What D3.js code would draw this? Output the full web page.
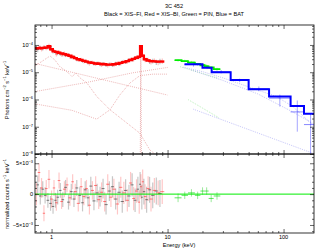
<!DOCTYPE html>
<html>
<head>
<meta charset="utf-8">
<script src="https://cdn.jsdelivr.net/npm/d3@7"></script>
<style>
  body { margin: 0; background: #fff; }
  svg { font-family: "Liberation Sans", Arial, sans-serif; }
</style>
</head>
<body>
<svg id="chart" width="317" height="249"></svg>
<script>
// ---- data ----
// XIS-BI (red)
const biEnergy = [0.74, 0.78, 0.82, 0.86, 0.90, 0.95, 1.0, 1.05, 1.1, 1.16, 1.22, 1.29, 1.36, 1.44, 1.52, 1.6, 1.7, 1.8, 1.9, 2.0, 2.12, 2.25, 2.4, 2.55, 2.7, 2.87, 3.05, 3.25, 3.45, 3.7, 3.95, 4.2, 4.5, 4.8, 5.1, 5.4, 5.7, 5.9, 6.1, 6.4, 6.8, 7.2, 7.7, 8.3, 9.0]
const biModel = [7.6e-5, 7.6e-5, 7.7e-5, 7.8e-5, 8.0e-5, 9.0e-5, 7.0e-5, 5.8e-5, 5.6e-5, 5.2e-5, 4.9e-5, 4.6e-5, 4.3e-5, 4.0e-5, 3.6e-5, 3.3e-5, 3.0e-5, 2.8e-5, 2.6e-5, 2.45e-5, 2.3e-5, 2.2e-5, 2.1e-5, 2.05e-5, 2.0e-5, 1.95e-5, 1.9e-5, 1.9e-5, 1.95e-5, 2.05e-5, 2.2e-5, 2.35e-5, 2.55e-5, 2.8e-5, 3.1e-5, 3.4e-5, 3.7e-5, 9.0e-5, 4.0e-5, 3.0e-5, 2.7e-5, 2.55e-5, 2.5e-5, 2.45e-5, 2.45e-5]
const biFlux = [7.2e-5, 8.4e-5, 7.0e-5, 8.6e-5, 7.6e-5, 9.6e-5, 6.4e-5, 6.2e-5, 4.6e-5, 5.6e-5, 4.4e-5, 5.0e-5, 4.6e-5, 3.7e-5, 3.9e-5, 3.4e-5, 2.8e-5, 3.0e-5, 2.5e-5, 2.6e-5, 2.1e-5, 2.35e-5, 2.0e-5, 2.2e-5, 1.85e-5, 2.05e-5, 1.8e-5, 2.0e-5, 1.85e-5, 2.2e-5, 2.05e-5, 2.5e-5, 2.4e-5, 3.0e-5, 2.9e-5, 3.6e-5, 3.5e-5, 8.6e-5, 4.3e-5, 2.8e-5, 2.9e-5, 2.4e-5, 2.7e-5, 2.3e-5, 2.6e-5]
const biFluxErr = [1.2e-5, 1.3e-5, 1.2e-5, 1.4e-5, 1.2e-5, 1.4e-5, 1.0e-5, 9e-6, 8e-6, 8e-6, 7e-6, 7e-6, 6e-6, 6e-6, 5e-6, 5e-6, 4e-6, 4e-6, 4e-6, 3.5e-6, 3.5e-6, 3e-6, 3e-6, 3e-6, 3e-6, 3e-6, 3e-6, 3e-6, 3e-6, 3e-6, 3e-6, 3.5e-6, 3.5e-6, 4e-6, 4e-6, 5e-6, 5e-6, 1.2e-5, 6e-6, 5e-6, 5e-6, 5e-6, 5e-6, 5e-6, 6e-6]
const biResid = [0.0, 3.5, 1.0, -3.1, 0.9, 2.4, -0.8, 1.0, -1.4, 2.2, -1.2, 0.8, 1.5, -0.6, 2.0, 0.4, -1.5, 1.2, -0.4, 0.9, -1.8, 0.6, 1.4, -0.9, 0.3, -1.2, 1.6, -0.5, 0.8, -1.6, 1.1, 0.2, -1.0, 1.8, -0.7, 0.5, -1.3, 1.2, 2.0, -0.4, 0.9, -0.8, 0.6, 0.2, 0.4]
const biResidErr = [1.8, 1.5, 1.6, 1.3, 1.4, 1.5, 1.4, 1.3, 1.3, 1.3, 1.2, 1.3, 1.2, 1.3, 1.2, 1.3, 1.3, 1.4, 1.4, 1.4, 1.5, 1.5, 1.5, 1.5, 1.6, 1.6, 1.6, 1.6, 1.7, 1.7, 1.7, 1.8, 1.8, 1.8, 1.9, 1.9, 1.9, 2.0, 2.0, 2.0, 2.0, 2.0, 2.0, 2.0, 2.0]

// XIS-FI (black)
const fiEnergy = [0.76, 0.80, 0.84, 0.88, 0.93, 0.98, 1.03, 1.08, 1.13, 1.19, 1.25, 1.32, 1.40, 1.48, 1.56, 1.65, 1.75, 1.85, 1.95, 2.06, 2.18, 2.32, 2.47, 2.62, 2.78, 2.95, 3.15, 3.35, 3.57, 3.82, 4.07, 4.35, 4.65, 4.95, 5.25, 5.55, 5.8, 6.0, 6.25, 6.6, 7.0, 7.45, 8.0, 8.6]
const fiFlux = [6.8e-5, 8.0e-5, 7.4e-5, 8.2e-5, 8.0e-5, 8.6e-5, 5.8e-5, 5.4e-5, 5.0e-5, 4.7e-5, 4.5e-5, 4.2e-5, 4.3e-5, 3.6e-5, 3.6e-5, 3.0e-5, 2.95e-5, 2.6e-5, 2.55e-5, 2.25e-5, 2.3e-5, 2.05e-5, 2.15e-5, 1.95e-5, 2.05e-5, 1.85e-5, 1.95e-5, 1.85e-5, 2.1e-5, 2.0e-5, 2.4e-5, 2.35e-5, 2.8e-5, 2.85e-5, 3.4e-5, 3.4e-5, 4.4e-5, 5.6e-5, 3.3e-5, 2.9e-5, 2.5e-5, 2.6e-5, 2.35e-5, 2.55e-5]
const fiFluxErr = [1.4e-5, 1.3e-5, 1.2e-5, 1.2e-5, 1.2e-5, 1.2e-5, 9e-6, 8e-6, 8e-6, 7e-6, 7e-6, 6e-6, 6e-6, 5e-6, 5e-6, 4.5e-6, 4e-6, 4e-6, 3.5e-6, 3.5e-6, 3.5e-6, 3e-6, 3e-6, 3e-6, 3e-6, 3e-6, 3e-6, 3e-6, 3e-6, 3e-6, 3.5e-6, 3.5e-6, 4e-6, 4e-6, 4.5e-6, 5e-6, 6e-6, 7e-6, 5e-6, 5e-6, 5e-6, 5e-6, 5e-6, 6e-6]
const fiResid = [1.5, -0.3, 0.8, -0.2, -1.0, -1.5, -2.0, -1.0, -0.5, 0.6, -0.9, 1.1, -1.3, 0.4, -0.8, 1.0, -0.2, -1.4, 0.7, -0.6, 1.3, -1.1, 0.2, -0.4, 0.9, -1.7, 0.5, 1.2, -0.8, 0.3, -1.2, 0.6, -0.3, 1.5, -1.0, 0.8, 1.6, -0.5, 0.4, -0.9, 0.7, -0.2, 0.5, 0.1]
const fiResidErr = [1.5, 1.4, 1.3, 1.3, 1.2, 1.2, 1.2, 1.2, 1.2, 1.2, 1.2, 1.2, 1.2, 1.3, 1.3, 1.3, 1.3, 1.4, 1.4, 1.4, 1.5, 1.5, 1.5, 1.6, 1.6, 1.6, 1.6, 1.7, 1.7, 1.7, 1.8, 1.8, 1.8, 1.9, 1.9, 2.0, 2.0, 2.0, 2.1, 2.1, 2.1, 2.1, 2.2, 2.2]

// HXD-PIN (green)
const pinEdges = [11.5, 13.2, 15.0, 17.2, 19.2, 20.9, 22.6, 25.0, 28.5]
const pinModel = [2.8e-5, 2.55e-5, 2.25e-5, 2.0e-5, 1.8e-5, 1.65e-5, 1.5e-5, 1.3e-5]
const pinFlux = [2.7e-5, 2.6e-5, 2.35e-5, 1.95e-5, 1.9e-5, 1.75e-5, 1.42e-5, 1.28e-5]
const pinFluxErr = [3e-6, 2.8e-6, 2.5e-6, 2.2e-6, 2.2e-6, 2.0e-6, 2.0e-6, 1.8e-6]
const pinResid = [-0.6, -0.2, 0.2, -0.2, 0.5, 0.5, -0.7, -0.3]
const pinResidErr = [0.7, 0.6, 0.6, 0.6, 0.6, 0.6, 0.6, 0.6]

// Swift BAT (blue)
const batEdges = [14, 20, 24, 35, 50, 75, 115, 150, 195]
const batModel = [1.96e-5, 1.47e-5, 1.0e-5, 5.2e-6, 2.38e-6, 1.28e-6, 5.8e-7, 3.0e-7]
const batFlux = [1.9e-5, 1.5e-5, 1.05e-5, 5.0e-6, 2.5e-6, 1.12e-6, 3.5e-7, 1.2e-7]
const batLo = [1.6e-5, 1.3e-5, 9e-6, 4.3e-6, 2.0e-6, 5.5e-7, 6.6e-8, 1e-8]
const batHi = [2.2e-5, 1.7e-5, 1.2e-5, 5.8e-6, 3.0e-6, 1.5e-6, 9.2e-7, 3.2e-7]

// model components [keV, photons cm-2 s-1 keV-1]
const biComponents = [
  [[0.72, 1.7e-5], [0.86, 2.8e-5], [0.97, 3.95e-5], [1.07, 2.8e-5], [1.18, 1.6e-5], [1.36, 1.05e-5], [1.5, 6.9e-6], [1.62, 9.2e-6], [1.76, 6.2e-6], [2.02, 4.0e-6], [2.46, 1.27e-6], [3.19, 4.2e-7], [4.46, 1.37e-7], [5.77, 5.8e-8], [7.04, 1.4e-8], [7.8, 1e-8]],
  [[0.72, 2.1e-5], [10, 1.45e-6]],
  [[0.72, 1.95e-6], [2, 4.2e-6], [5, 9.5e-6], [10, 1.5e-5]],
  [[0.72, 6.9e-7], [1.5, 4.0e-7], [2.45, 1.9e-7], [3.19, 4.2e-7], [3.88, 1.47e-6], [4.73, 4.0e-6], [5.77, 7.5e-6], [7.5, 8.5e-6], [10, 8.5e-6]],
  [[5.82, 1e-8], [5.88, 6e-5], [5.95, 1e-8]]
]
const pinComponents = [
  [[12.8, 1.6e-5], [27.4, 6.0e-6]],
  [[15.1, 9.8e-7], [27.4, 2.2e-7]]
]
const batComponents = [
  [[13.7, 1.52e-5], [20, 1.05e-5], [30, 6.2e-6], [50, 2.9e-6], [87, 1.28e-6], [120, 5.5e-7], [186, 1.0e-7]],
  [[16, 1.2e-5], [30, 5.0e-6], [60, 1.6e-6], [120, 3.5e-7], [186, 1.2e-7]],
  [[16.7, 4.4e-7], [186, 1e-8]]
]

const xMajor = [1, 10, 100]
const xMinor = [0.8, 0.9, 2, 3, 4, 5, 6, 7, 8, 9, 20, 30, 40, 50, 60, 70, 80, 90]
const yMajor = [1e-8, 1e-7, 1e-6, 1e-5, 1e-4]
const resMajor = [-5e-3, 0, 5e-3]
const resMinor = [-6e-3, -4e-3, -3e-3, -2e-3, -1e-3, 1e-3, 2e-3, 3e-3, 4e-3, 6e-3]

// ---- layout ----
const left = 35, right = 314
const topY = 25, midY = 154, botY = 233

const svg = d3.select('#chart')

const x = d3.scaleLog().domain([0.72, 183]).range([left, right])
const y = d3.scaleLog().domain([1e-8, 5.4e-4]).range([midY, topY]).clamp(true)
const yr = d3.scaleLinear().domain([-6.3e-3, 6.5e-3]).range([botY, midY])

svg.append('clipPath').attr('id', 'clipTop')
  .append('rect').attr('x', left).attr('y', topY).attr('width', right - left).attr('height', midY - topY)
svg.append('clipPath').attr('id', 'clipBot')
  .append('rect').attr('x', left).attr('y', midY).attr('width', right - left).attr('height', botY - midY)

const topG = svg.append('g').attr('clip-path', 'url(#clipTop)')
const botG = svg.append('g').attr('clip-path', 'url(#clipBot)')

let compLine = d3.line().x(d => x(d[0])).y(d => y(d[1]))

function drawComponents(list, color){
  list.forEach(function(c){
    topG.append('path')
      .attr('d', compLine(c))
      .attr('fill', 'none')
      .attr('stroke', color)
      .attr('stroke-width', 0.6)
      .attr('stroke-dasharray', '0.8,1.2')
  })
}
drawComponents(biComponents, '#d96a6a')
drawComponents(pinComponents, '#7be07b')
drawComponents(batComponents, '#8a8af0')

// half bin widths from neighbouring energies
function binBounds(en){
  return en.map(function(e, i){
    let lo = i > 0 ? Math.sqrt(e * en[i - 1]) : e * e / Math.sqrt(e * en[i + 1])
    let hi = i < en.length - 1 ? Math.sqrt(e * en[i + 1]) : e * e / Math.sqrt(e * en[i - 1])
    return [lo, hi]
  })
}

function drawCrosses(g, en, bounds, yv, ylo, yhi, errColor, barColor, w){
  en.forEach(function(e, i){
    g.append('line')
      .attr('x1', x(e)).attr('x2', x(e))
      .attr('y1', ylo[i]).attr('y2', yhi[i])
      .attr('stroke', errColor).attr('stroke-width', w)
    g.append('line')
      .attr('x1', x(bounds[i][0])).attr('x2', x(bounds[i][1]))
      .attr('y1', yv[i]).attr('y2', yv[i])
      .attr('stroke', barColor).attr('stroke-width', 0.8)
  })
}

// upper panel data
let fiB = binBounds(fiEnergy)
drawCrosses(topG, fiEnergy, fiB,
  fiFlux.map(v => y(v)),
  fiFlux.map((v, i) => y(v - fiFluxErr[i])),
  fiFlux.map((v, i) => y(v + fiFluxErr[i])),
  'rgba(0,0,0,0.25)', 'rgba(0,0,0,0.6)', 1.2)

let biB = binBounds(biEnergy)
drawCrosses(topG, biEnergy, biB,
  biFlux.map(v => y(v)),
  biFlux.map((v, i) => y(v - biFluxErr[i])),
  biFlux.map((v, i) => y(v + biFluxErr[i])),
  'rgba(255,0,0,0.25)', 'rgba(255,0,0,0.6)', 1.2)

// XIS model step
let biStep = []
biEnergy.forEach(function(e, i){
  biStep.push([biB[i][0], biModel[i]])
  biStep.push([biB[i][1], biModel[i]])
})
topG.append('path')
  .attr('d', compLine(biStep))
  .attr('fill', 'none').attr('stroke', '#ff0000').attr('stroke-width', 2.4)

// PIN
let pinCenters = pinModel.map((v, i) => Math.sqrt(pinEdges[i] * pinEdges[i + 1]))
let pinB = pinCenters.map((c, i) => [pinEdges[i], pinEdges[i + 1]])
drawCrosses(topG, pinCenters, pinB,
  pinFlux.map(v => y(v)),
  pinFlux.map((v, i) => y(v - pinFluxErr[i])),
  pinFlux.map((v, i) => y(v + pinFluxErr[i])),
  'rgba(0,200,0,0.35)', 'rgba(0,220,0,0.7)', 0.8)
let pinStep = []
pinModel.forEach(function(v, i){
  pinStep.push([pinEdges[i], v])
  pinStep.push([pinEdges[i + 1], v])
})
topG.append('path')
  .attr('d', compLine(pinStep))
  .attr('fill', 'none').attr('stroke', '#00ee00').attr('stroke-width', 1.8)

// BAT
let batCenters = batModel.map((v, i) => Math.sqrt(batEdges[i] * batEdges[i + 1]))
let batB = batCenters.map((c, i) => [batEdges[i], batEdges[i + 1]])
drawCrosses(topG, batCenters, batB,
  batFlux.map(v => y(v)),
  batLo.map(v => y(v)),
  batHi.map(v => y(v)),
  'rgba(0,0,255,0.45)', 'rgba(0,0,255,0.6)', 0.8)
let batStep = []
batModel.forEach(function(v, i){
  batStep.push([batEdges[i], v])
  batStep.push([batEdges[i + 1], v])
})
topG.append('path')
  .attr('d', compLine(batStep))
  .attr('fill', 'none').attr('stroke', '#0000ff').attr('stroke-width', 2)

// residuals
drawCrosses(botG, fiEnergy, fiB,
  fiResid.map(v => yr(v * 1e-3)),
  fiResid.map((v, i) => yr((v - fiResidErr[i]) * 1e-3)),
  fiResid.map((v, i) => yr((v + fiResidErr[i]) * 1e-3)),
  'rgba(0,0,0,0.22)', 'rgba(0,0,0,0.6)', 1.2)
drawCrosses(botG, biEnergy, biB,
  biResid.map(v => yr(v * 1e-3)),
  biResid.map((v, i) => yr((v - biResidErr[i]) * 1e-3)),
  biResid.map((v, i) => yr((v + biResidErr[i]) * 1e-3)),
  'rgba(255,0,0,0.22)', 'rgba(255,0,0,0.6)', 1.2)
drawCrosses(botG, pinCenters, pinB,
  pinResid.map(v => yr(v * 1e-3)),
  pinResid.map((v, i) => yr((v - pinResidErr[i]) * 1e-3)),
  pinResid.map((v, i) => yr((v + pinResidErr[i]) * 1e-3)),
  'rgba(0,200,0,0.5)', 'rgba(0,220,0,0.8)', 0.8)

botG.append('line')
  .attr('x1', left).attr('x2', right)
  .attr('y1', yr(0)).attr('y2', yr(0))
  .attr('stroke', '#00ee00').attr('stroke-width', 1)

// ---- axes (ticks inside) ----
function ticks(g, axis){
  g.call(axis)
  g.select('.domain').remove()
  g.selectAll('line').attr('stroke', '#000').attr('stroke-width', 0.6)
}

const none = () => ''
ticks(svg.append('g').attr('transform', `translate(0,${midY})`), d3.axisBottom(x).tickValues(xMajor).tickSize(-4).tickFormat(none))
ticks(svg.append('g').attr('transform', `translate(0,${midY})`), d3.axisBottom(x).tickValues(xMinor).tickSize(-2).tickFormat(none))
ticks(svg.append('g').attr('transform', `translate(0,${topY})`), d3.axisTop(x).tickValues(xMajor).tickSize(-4).tickFormat(none))
ticks(svg.append('g').attr('transform', `translate(0,${topY})`), d3.axisTop(x).tickValues(xMinor).tickSize(-2).tickFormat(none))
ticks(svg.append('g').attr('transform', `translate(0,${botY})`), d3.axisBottom(x).tickValues(xMajor).tickSize(-4).tickFormat(none))
ticks(svg.append('g').attr('transform', `translate(0,${botY})`), d3.axisBottom(x).tickValues(xMinor).tickSize(-2).tickFormat(none))
ticks(svg.append('g').attr('transform', `translate(0,${midY})`), d3.axisTop(x).tickValues(xMajor).tickSize(-4).tickFormat(none))
ticks(svg.append('g').attr('transform', `translate(0,${midY})`), d3.axisTop(x).tickValues(xMinor).tickSize(-2).tickFormat(none))

let yMinor = []
yMajor.forEach(function(m){ if(m < 1e-4) [2,3,4,5,6,7,8,9].forEach(k => yMinor.push(m * k)) })
;[2,3,4,5].forEach(k => yMinor.push(1e-4 * k))

ticks(svg.append('g').attr('transform', `translate(${left},0)`), d3.axisLeft(y).tickValues(yMajor).tickSize(-4).tickFormat(none))
ticks(svg.append('g').attr('transform', `translate(${left},0)`), d3.axisLeft(y).tickValues(yMinor).tickSize(-2).tickFormat(none))
ticks(svg.append('g').attr('transform', `translate(${right},0)`), d3.axisRight(y).tickValues(yMajor).tickSize(-4).tickFormat(none))
ticks(svg.append('g').attr('transform', `translate(${right},0)`), d3.axisRight(y).tickValues(yMinor).tickSize(-2).tickFormat(none))

ticks(svg.append('g').attr('transform', `translate(${left},0)`), d3.axisLeft(yr).tickValues(resMajor).tickSize(-4).tickFormat(none))
ticks(svg.append('g').attr('transform', `translate(${left},0)`), d3.axisLeft(yr).tickValues(resMinor).tickSize(-2).tickFormat(none))
ticks(svg.append('g').attr('transform', `translate(${right},0)`), d3.axisRight(yr).tickValues(resMajor).tickSize(-4).tickFormat(none))
ticks(svg.append('g').attr('transform', `translate(${right},0)`), d3.axisRight(yr).tickValues(resMinor).tickSize(-2).tickFormat(none))

// frames
svg.append('rect').attr('x', left).attr('y', topY).attr('width', right - left).attr('height', midY - topY)
  .attr('fill', 'none').attr('stroke', '#000').attr('stroke-width', 0.8)
svg.append('rect').attr('x', left).attr('y', midY).attr('width', right - left).attr('height', botY - midY)
  .attr('fill', 'none').attr('stroke', '#000').attr('stroke-width', 0.8)

// ---- labels ----
const fs = 5.6
function powerLabel(g, tx, ty, pre, exp, anchor){
  let t = g.append('text').attr('x', tx).attr('y', ty)
    .attr('font-size', fs).attr('text-anchor', anchor || 'end').attr('fill', '#000')
  t.append('tspan').text(pre)
  t.append('tspan').attr('dy', -2.2).attr('font-size', fs * 0.7).text(exp)
  return t
}

yMajor.forEach(function(v){
  powerLabel(svg, left - 2, y(v) + 2, '10', '\u2212' + (-Math.round(Math.log10(v))))
})
powerLabel(svg, left - 2, yr(5e-3) + 2, '5\u00d710', '\u22123')
powerLabel(svg, left - 2, yr(-5e-3) + 2, '\u22125\u00d710', '\u22123')
svg.append('text').attr('x', left - 2).attr('y', yr(0) + 2)
  .attr('font-size', fs).attr('text-anchor', 'end').text('0')

xMajor.forEach(function(v){
  svg.append('text').attr('x', x(v)).attr('y', botY + 6.3)
    .attr('font-size', fs).attr('text-anchor', 'middle').text(d3.format('d')(v))
})

svg.append('text').attr('x', 179).attr('y', 246.5)
  .attr('font-size', fs).attr('text-anchor', 'middle').text('Energy (keV)')

// rotated titles with superscript exponents
function axisTitle(cx, cy, parts){
  let t = svg.append('text')
    .attr('transform', `translate(${cx},${cy}) rotate(-90)`)
    .attr('font-size', fs).attr('text-anchor', 'middle')
  let shift = 0
  parts.forEach(function(p){
    t.append('tspan').attr('dy', shift).text(p[0])
    t.append('tspan').attr('dy', -2.2).attr('font-size', fs * 0.7).text(p[1])
    shift = 2.2
  })
}
axisTitle(8.5, 90, [['Photons cm', '\u22122'], [' s', '\u22121'], [' keV', '\u22121']])
axisTitle(8.5, 194, [['normalized counts s', '\u22121'], [' keV', '\u22121']])

svg.append('text').attr('x', 174).attr('y', 8.3)
  .attr('font-size', fs).attr('text-anchor', 'middle').text('3C 452')
svg.append('text').attr('x', 174).attr('y', 15.5)
  .attr('font-size', fs).attr('text-anchor', 'middle')
  .text('Black = XIS\u2013FI, Red = XIS\u2013BI, Green = PIN, Blue = BAT')
</script>
</body>
</html>
